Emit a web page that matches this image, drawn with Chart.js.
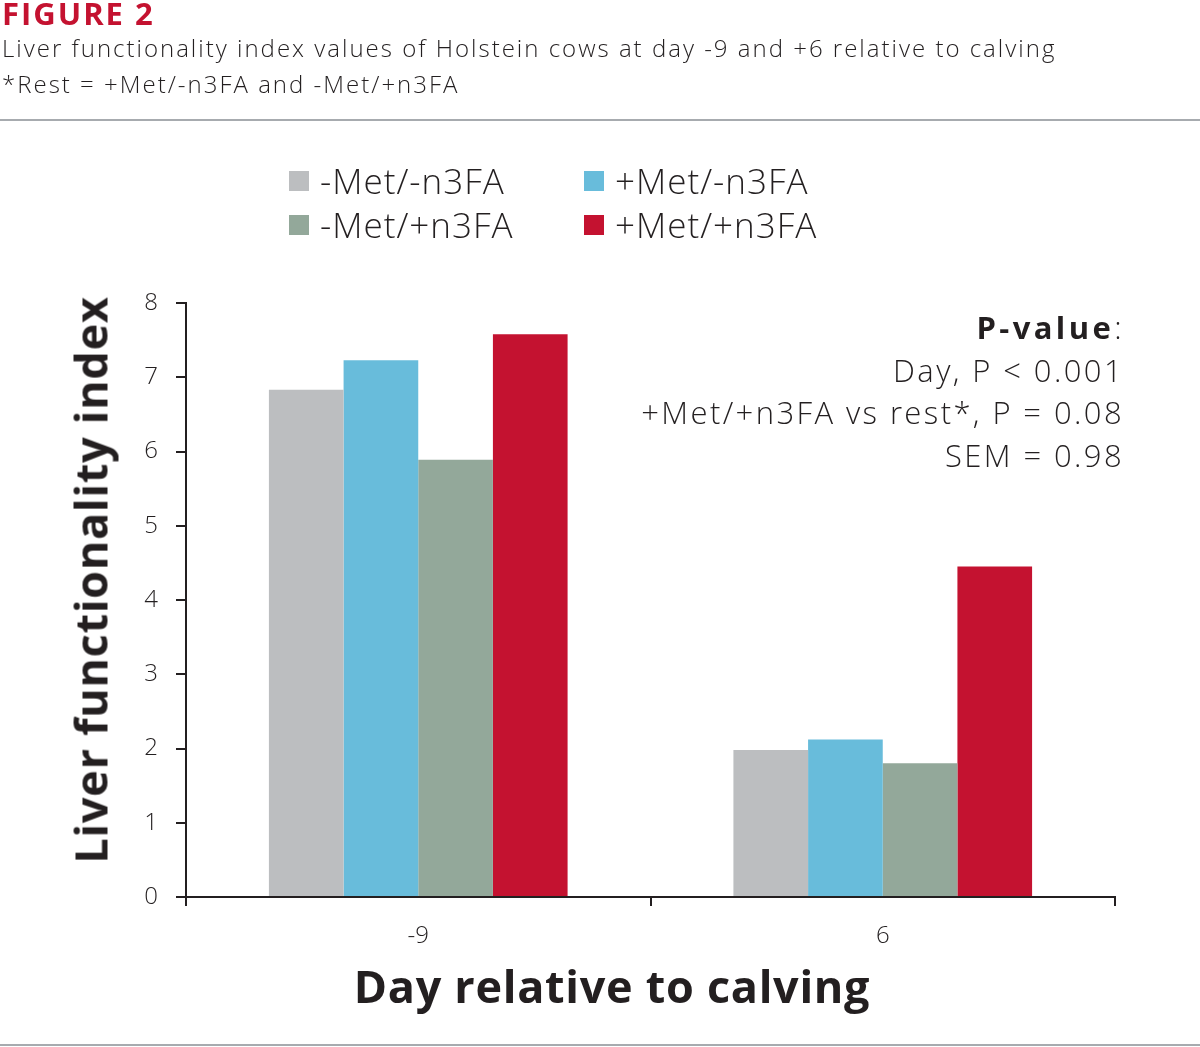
<!DOCTYPE html>
<html>
<head>
<meta charset="utf-8">
<script src="https://cdn.jsdelivr.net/npm/chart.js@4.4.1/dist/chart.umd.min.js"></script>
<style>
  body { margin: 0; width: 1200px; height: 1047px; position: relative; background: #fff;
         font-family: "Open Sans", Roboto, sans-serif; color: #231f20; overflow: hidden; }
  #chart { position: absolute; left: 0; top: 0; }
  .abs { position: absolute; white-space: nowrap; }
  #fig { left: 2px; top: -8px; font-size: 31px; font-weight: 700; color: #c41230; letter-spacing: 2px; }
  #sub { left: 2px; top: 30px; font-size: 24px; font-weight: 300; line-height: 36px; letter-spacing: 2px; }
  .rule { position: absolute; left: 0; width: 1200px; height: 2px; background: #a7abaf; }
  #legend { left: 0; top: 0; }
  .leg { position: absolute; display: flex; align-items: center; font-size: 35px; font-weight: 300; letter-spacing: 1px; }
  .leg span.box { width: 20px; height: 20px; display: inline-block; margin-right: 11px; }
  #pval { right: 76px; top: 306px; text-align: right; font-size: 31px; font-weight: 300; line-height: 42.5px; letter-spacing: 2.4px; }
  #pval b { font-weight: 700; letter-spacing: 3.4px; }
  #ytitle { left: 90px; top: 580px; font-size: 45px; font-weight: 700; letter-spacing: 0.7px; transform: translate(-50%, -50%) rotate(-90deg); }
  #xtitle { left: 612px; top: 985px; font-size: 45px; font-weight: 700; letter-spacing: 0.7px; transform: translate(-50%, -50%); }
</style>
</head>
<body>
<canvas id="chart" width="1200" height="1047"></canvas>
<div class="abs" id="fig">FIGURE 2</div>
<div class="abs" id="sub">Liver functionality index values of Holstein cows at day -9 and +6 relative to calving<br>*Rest = +Met/-n3FA and -Met/+n3FA</div>
<div class="rule" style="top:119px"></div>
<div class="rule" style="top:1044px"></div>
<div class="abs" id="legend"></div>
<div class="abs" id="pval"><b>P-value</b>:<br>Day, P &lt; 0.001<br>+Met/+n3FA vs rest*, P = 0.08<br>SEM = 0.98</div>
<div class="abs" id="ytitle">Liver functionality index</div>
<div class="abs" id="xtitle">Day relative to calving</div>
<script>
// data
const days = ['-9', '6'];
const groups = ['-Met/-n3FA', '+Met/-n3FA', '-Met/+n3FA', '+Met/+n3FA'];
const noMetNoN3 = [6.83, 1.98];
const metNoN3 = [7.23, 2.12];
const noMetN3 = [5.89, 1.80];
const metN3 = [7.58, 4.45];
const yMin = 0, yMax = 8, yStep = 1;

const colors = ['#bcbec0', '#68bcdb', '#93a89a', '#c41230'];
const seriesValues = [noMetNoN3, metNoN3, noMetN3, metN3];

// legend, 2x2 like the figure
const legendPos = [[289, 182], [584, 182], [289, 226], [584, 226]];
const legend = document.getElementById('legend');
groups.forEach(function (g, i) {
  const item = document.createElement('div');
  item.className = 'leg';
  item.style.left = legendPos[i][0] + 'px';
  item.style.top = (legendPos[i][1] - 25) + 'px';
  item.innerHTML = '<span class="box" style="background:' + colors[i] + '"></span>' + g;
  legend.appendChild(item);
});

const axisColor = '#231f20';
const tickFont = { family: '"Open Sans", Roboto, sans-serif', size: 24, weight: 300 };

new Chart(document.getElementById('chart').getContext('2d'), {
  type: 'bar',
  data: {
    labels: days,
    datasets: groups.map(function (g, i) {
      return {
        label: g,
        data: seriesValues[i],
        backgroundColor: colors[i],
        borderWidth: 0,
        categoryPercentage: 0.643,
        barPercentage: 1.0
      };
    })
  },
  options: {
    responsive: false,
    animation: false,
    layout: { padding: { top: 303, right: 85, bottom: 100, left: 0 } },
    plugins: { legend: { display: false }, tooltip: { enabled: false } },
    scales: {
      x: {
        afterFit: function (s) { s.height = 50; },
        grid: { drawOnChartArea: false, color: axisColor, lineWidth: 2, tickLength: 9, offset: true },
        border: { color: axisColor, width: 2 },
        ticks: { color: axisColor, font: tickFont, padding: 16 }
      },
      y: {
        min: yMin,
        max: yMax,
        afterFit: function (s) { s.width = 186; },
        grid: { drawOnChartArea: false, color: axisColor, lineWidth: 2, tickLength: 10 },
        border: { color: axisColor, width: 2 },
        ticks: { stepSize: yStep, color: axisColor, font: tickFont, padding: 18 }
      }
    }
  }
});
</script>
</body>
</html>
